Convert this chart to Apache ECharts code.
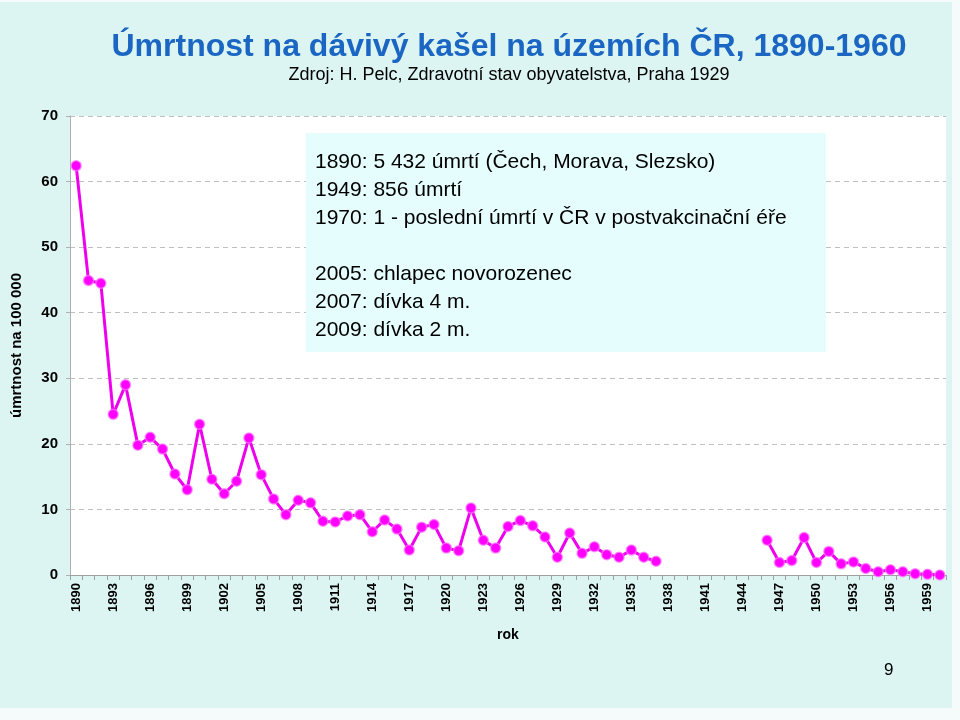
<!DOCTYPE html>
<html><head><meta charset="utf-8">
<script src="https://cdn.jsdelivr.net/npm/echarts@6/dist/echarts.min.js"></script>
<style>html,body{margin:0;padding:0;background:#f4fbfa;}#c{position:absolute;left:0;top:2px;width:952px;height:706px;background:#dcf5f2;}</style>
</head><body><div id="c"></div>
<script>
const years = [];
for (let y = 1890; y <= 1960; y++) years.push(String(y));
const mortality = [
 62.4, 44.9, 44.5, 24.5, 29.0, 19.8, 21.0, 19.2, 15.4, 13.0,
 23.0, 14.6, 12.4, 14.3, 20.9, 15.3, 11.6, 9.2, 11.4, 11.0,
 8.2, 8.1, 9.0, 9.2, 6.6, 8.4, 7.0, 3.8, 7.3, 7.7,
 4.1, 3.7, 10.2, 5.3, 4.1, 7.4, 8.3, 7.5, 5.8, 2.7,
 6.4, 3.3, 4.3, 3.1, 2.7, 3.8, 2.7, 2.1,
 null, null, null, null, null, null, null, null,
 5.3, 1.9, 2.2, 5.7, 1.9, 3.6, 1.7, 2.0, 1.0, 0.5,
 0.8, 0.5, 0.2, 0.1, 0.0
];
const yTicks = [0, 10, 20, 30, 40, 50, 60, 70];
const noteLines = [
 "1890: 5 432 úmrtí (Čech, Morava, Slezsko)",
 "1949: 856 úmrtí",
 "1970: 1 - poslední úmrtí v ČR v postvakcinační éře",
 "",
 "2005: chlapec novorozenec",
 "2007: dívka 4 m.",
 "2009: dívka 2 m."
];
const chart = echarts.init(document.getElementById('c'));
const ff = 'Liberation Sans, Arial, sans-serif';
chart.setOption({
  backgroundColor: '#dcf5f2',
  animation: false,
  title: [{
    text: 'Úmrtnost na dávivý kašel na územích ČR, 1890-1960',
    left: 504, textAlign: 'center', top: 24,
    textStyle: {fontFamily: ff, fontSize: 32, fontWeight: 'bold', color: '#1a66c2'},
    subtext: 'Zdroj: H. Pelc, Zdravotní stav obyvatelstva, Praha 1929',
    subtextStyle: {fontFamily: ff, fontSize: 18, color: '#000'},
    itemGap: 3
  }],
  grid: {left: 70, right: 6, top: 114, bottom: 133, backgroundColor: '#fff', show: true, borderWidth: 0},
  xAxis: {
    type: 'category', data: years, boundaryGap: true,
    name: 'rok', nameLocation: 'middle', nameGap: 53,
    nameTextStyle: {fontFamily: ff, fontSize: 14, fontWeight: 'bold', color: '#000'},
    axisLine: {lineStyle: {color: '#a0a0a0'}},
    axisTick: {show: true, interval: 0, length: 5, lineStyle: {color: '#a0a0a0'}},
    axisLabel: {interval: 2, rotate: 90, fontFamily: ff, fontSize: 13, fontWeight: 'bold', color: '#000', margin: 8}
  },
  yAxis: {
    type: 'value', min: yTicks[0], max: yTicks[yTicks.length - 1], interval: 10,
    name: 'úmrtnost na 100 000', nameLocation: 'middle', nameGap: 46,
    nameTextStyle: {fontFamily: ff, fontSize: 15, fontWeight: 'bold', color: '#000'},
    axisLine: {show: true, lineStyle: {color: '#b0b0b0'}},
    axisTick: {show: true, length: 4, lineStyle: {color: '#b0b0b0'}},
    axisLabel: {fontFamily: ff, fontSize: 15, fontWeight: 'bold', color: '#000', margin: 12},
    splitLine: {lineStyle: {type: [5, 4], color: '#c0c0c0'}}
  },
  series: [{
    type: 'line', data: mortality, connectNulls: false,
    showAllSymbol: true,
    symbol: 'circle', symbolSize: 10,
    lineStyle: {color: '#ee00ee', width: 3},
    itemStyle: {color: '#ff00ff', borderColor: 'rgba(255,120,255,0.7)', borderWidth: 1.5}
  }],
  graphic: [
    {type: 'rect', left: 306, top: 131, shape: {width: 520, height: 219}, style: {fill: '#e6fdfd'}, z: 10},
    {type: 'text', left: 315, top: 146, z: 11,
     style: {text: noteLines.join('\n'), font: '21px ' + ff, fill: '#000', lineHeight: 28}},
    {type: 'text', left: 884, top: 660, z: 11, style: {text: '9', font: '17px ' + ff, fill: '#000'}}
  ]
});
</script></body></html>
